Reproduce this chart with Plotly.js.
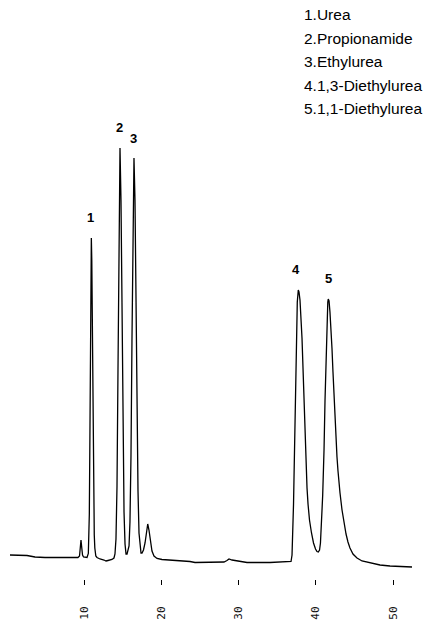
<!DOCTYPE html>
<html>
<head>
<meta charset="utf-8">
<script src="https://cdn.plot.ly/plotly-3.0.1.min.js"></script>
<style>
html,body{margin:0;padding:0;background:#fff;}
#chart{width:432px;height:623px;}
</style>
</head>
<body>
<div id="chart"></div>
<script>
// Retention time (min)
var timeMin = [0.42,2.62,3.66,4.95,6.89,9.22,9.42,9.52,9.61,9.70,9.81,9.94,10.39,10.56,10.69,10.75,10.82,10.88,10.95,11.01,11.07,11.14,11.20,11.27,11.33,11.40,11.53,11.68,12.07,12.59,12.85,13.11,13.62,13.88,14.01,14.14,14.27,14.40,14.53,14.66,14.79,14.92,15.05,15.18,15.31,15.44,15.57,15.70,15.83,15.95,16.08,16.21,16.34,16.47,16.60,16.73,16.86,16.99,17.12,17.25,17.38,17.51,17.70,17.90,18.09,18.25,18.41,18.61,18.80,19.06,19.45,20.10,21.13,22.43,23.72,24.37,26.31,28.12,28.51,28.77,29.16,30.19,31.10,34.08,36.67,36.80,36.93,37.03,37.12,37.18,37.29,37.39,37.51,37.61,37.74,37.83,37.96,38.09,38.22,38.35,38.48,38.61,38.74,38.87,39.00,39.19,39.45,39.71,39.97,40.16,40.33,40.49,40.61,40.72,40.81,40.90,40.98,41.07,41.20,41.33,41.46,41.56,41.62,41.72,41.84,41.97,42.10,42.23,42.36,42.49,42.62,42.75,42.88,43.01,43.14,43.40,43.66,43.92,44.17,44.43,44.82,45.34,45.99,47.02,48.32,49.61,50.91,52.46];
// Detector response (arbitrary units)
var response = [24,23.5,22,21.5,21.5,21.5,23,30,39,32,24,22,21.5,25.5,65,126,216,303,341,318,259,186,120,72,44,31,23,21.5,20,19,18,18.5,19.5,21,25,40,92,209,359,431,378,257,139,67,35,25,25,28,33,57,122,238,364,421,379,276,166,88,46,30,26,26,29,36,49,55,49,36,28,23,20.5,19.5,19,18,17.5,16.5,16.5,17,18.5,20,19,18,16.5,16.5,17,17.5,24,44,74,99,149,199,249,277,289,287,279,264,241,211,177,143,113,91,75,59,46,36,30,27.5,27,29,36,49,69,84,99,129,179,224,261,277,280,278,267,251,231,207,182,159,139,122,108,96,86,69,56,45,37,31,25,21,18,16,14,13,12.5,12];

// Peak labels
var peakNums = ["1","2","3","4","5"];
var peakTimes = [10.90,14.60,16.45,37.50,41.65];
var peakLabelY = [362,452,441,310,301];

// Compound list
var compounds = ["1.Urea","2.Propionamide","3.Ethylurea","4.1,3-Diethylurea","5.1,1-Diethylurea"];

// Axis ticks
var tickVals = [10,20,30,40,50];
var tickText = ["10","20","30","40","50"];

var W = 432, H = 623, plotBottom = 579;
var annotations = [];
for (var i = 0; i < peakNums.length; i++) {
  annotations.push({
    x: peakTimes[i], y: peakLabelY[i], xref: 'x', yref: 'y',
    text: '<b>' + peakNums[i] + '</b>', showarrow: false,
    xanchor: 'center', yanchor: 'middle',
    font: {family: 'Liberation Sans, Arial, sans-serif', size: 13, color: '#000'}
  });
}
var legendCenters = [15, 38.5, 62, 85.5, 109];
for (var j = 0; j < compounds.length; j++) {
  annotations.push({
    x: 302 / W, y: 1 - legendCenters[j] / plotBottom, xref: 'paper', yref: 'paper',
    text: compounds[j], showarrow: false, xanchor: 'left', yanchor: 'middle',
    font: {family: 'Liberation Sans, Arial, sans-serif', size: 15.5, color: '#000'}
  });
}

var trace = {
  x: timeMin, y: response, type: 'scatter', mode: 'lines',
  line: {color: '#000', width: 1.3},
  hoverinfo: 'skip'
};

var layout = {
  width: W, height: H,
  margin: {l: 0, r: 0, t: 0, b: H - plotBottom, pad: 0},
  paper_bgcolor: '#fff', plot_bgcolor: '#fff',
  showlegend: false,
  xaxis: {
    range: [10 - 84 / 7.725, 10 + 348 / 7.725],
    tickvals: tickVals, ticktext: tickText,
    tickangle: -90,
    ticks: 'outside', ticklen: 5, tickwidth: 1, tickcolor: '#000',
    ticklabelstandoff: 17,
    tickfont: {family: 'DejaVu Sans Mono, monospace', size: 11, color: '#111'},
    showgrid: false, zeroline: false, showline: false, fixedrange: true
  },
  yaxis: {
    range: [0, plotBottom], visible: false, showgrid: false, zeroline: false, fixedrange: true
  },
  annotations: annotations
};

Plotly.newPlot('chart', [trace], layout, {displayModeBar: false, staticPlot: true});
</script>
</body>
</html>
